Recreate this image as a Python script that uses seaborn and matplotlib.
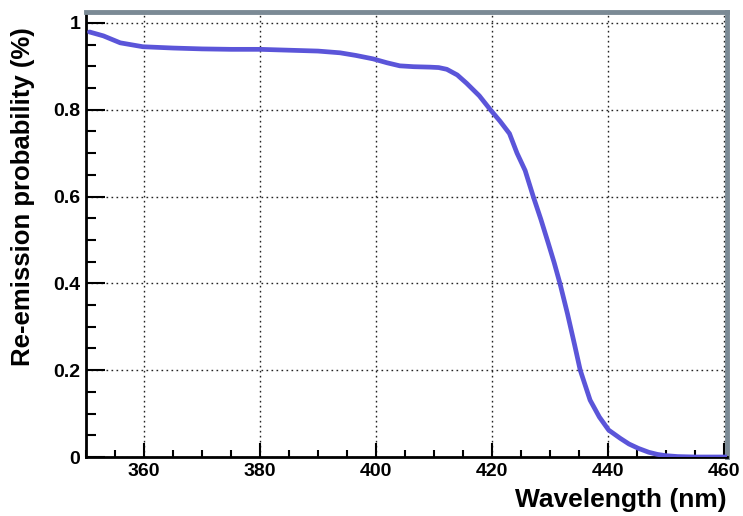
import matplotlib
matplotlib.use("Agg")
import matplotlib.pyplot as plt
from matplotlib.ticker import MultipleLocator, FixedLocator
import seaborn as sns
import pandas as pd

# Re-emission probability versus wavelength
wavelength_nm = [350.6, 353.0, 355.9, 359.8, 365.0, 370.0, 375.0, 380.0, 385.0,
                 390.0, 393.8, 396.5, 399.5, 401.9, 404.1, 406.5, 409.3, 410.8,
                 412.2, 414.0, 415.6, 417.8, 419.7, 421.4, 423.0, 424.3, 425.7,
                 427.1, 428.4, 429.7, 430.7, 431.7, 433.0, 434.2, 435.2, 436.9,
                 438.5, 440.1, 442.1, 443.6, 445.2, 447.0, 448.5, 450.0, 452.0,
                 455.0, 458.0, 460.5]
reemission = [0.979, 0.970, 0.954, 0.945, 0.942, 0.940, 0.939, 0.939, 0.937,
              0.935, 0.931, 0.925, 0.917, 0.908, 0.901, 0.899, 0.898, 0.897,
              0.893, 0.880, 0.861, 0.832, 0.800, 0.773, 0.745, 0.700, 0.660,
              0.600, 0.548, 0.492, 0.448, 0.400, 0.330, 0.260, 0.200, 0.131,
              0.092, 0.062, 0.043, 0.030, 0.020, 0.011, 0.006, 0.003, 0.001,
              0.0, 0.0, 0.0]

x_major = [360, 380, 400, 420, 440, 460]
y_major = [0, 0.2, 0.4, 0.6, 0.8, 1.0]
y_labels = ["0", "0.2", "0.4", "0.6", "0.8", "1"]

df = pd.DataFrame({"wavelength": wavelength_nm, "prob": reemission})

sns.set_style("white")
plt.rcParams["font.family"] = ["Liberation Sans", "DejaVu Sans"]
plt.rcParams["font.weight"] = "bold"
plt.rcParams["text.color"] = "black"
plt.rcParams["axes.labelcolor"] = "black"
plt.rcParams["xtick.color"] = "black"
plt.rcParams["ytick.color"] = "black"

fig = plt.figure(figsize=(7.43, 5.16), dpi=100)
ax = fig.add_axes([86 / 743, 59 / 516, 641 / 743, 445 / 516])

sns.lineplot(data=df, x="wavelength", y="prob", ax=ax, color="#5b55d9",
             linewidth=3.4, zorder=3)

ax.set_xlim(350, 460.5)
ax.set_ylim(0, 1.025)

ax.xaxis.set_major_locator(FixedLocator(x_major))
ax.xaxis.set_minor_locator(MultipleLocator(5))
ax.yaxis.set_major_locator(FixedLocator(y_major))
ax.yaxis.set_minor_locator(MultipleLocator(0.05))
ax.set_xticklabels([str(v) for v in x_major], fontsize=14, fontweight="bold",
                   color="black")
ax.set_yticklabels(y_labels, fontsize=14, fontweight="bold", color="black")

ax.tick_params(axis="both", which="both", bottom=True, left=True,
               top=False, right=False)
ax.tick_params(axis="x", which="major", direction="in", length=10, width=1.5,
               color="black", pad=4)
ax.tick_params(axis="x", which="minor", direction="in", length=5, width=1.5,
               color="black")
ax.tick_params(axis="y", which="major", direction="in", length=14, width=1.5,
               color="black", pad=4)
ax.tick_params(axis="y", which="minor", direction="in", length=7, width=1.5,
               color="black")

ax.grid(True, which="major", color="#222222", linestyle=(0, (1.2, 2.4)),
        linewidth=1.0, zorder=1)

for side in ("left", "bottom"):
    ax.spines[side].set_color("black")
    ax.spines[side].set_linewidth(2.0)
for side in ("top", "right"):
    ax.spines[side].set_color("#7b8a95")
    ax.spines[side].set_linewidth(3.5)
    ax.spines[side].set_visible(True)

ax.set_xlabel("Wavelength (nm)", fontsize=19, fontweight="bold", loc="right",
              color="black")
ax.set_ylabel("Re-emission probability (%)", fontsize=18.5, fontweight="bold",
              loc="top", color="black")
ax.xaxis.set_label_coords(1.0, -0.07)
ax.yaxis.set_label_coords(-0.08, 0.965)

fig.savefig("out.png", dpi=100)
